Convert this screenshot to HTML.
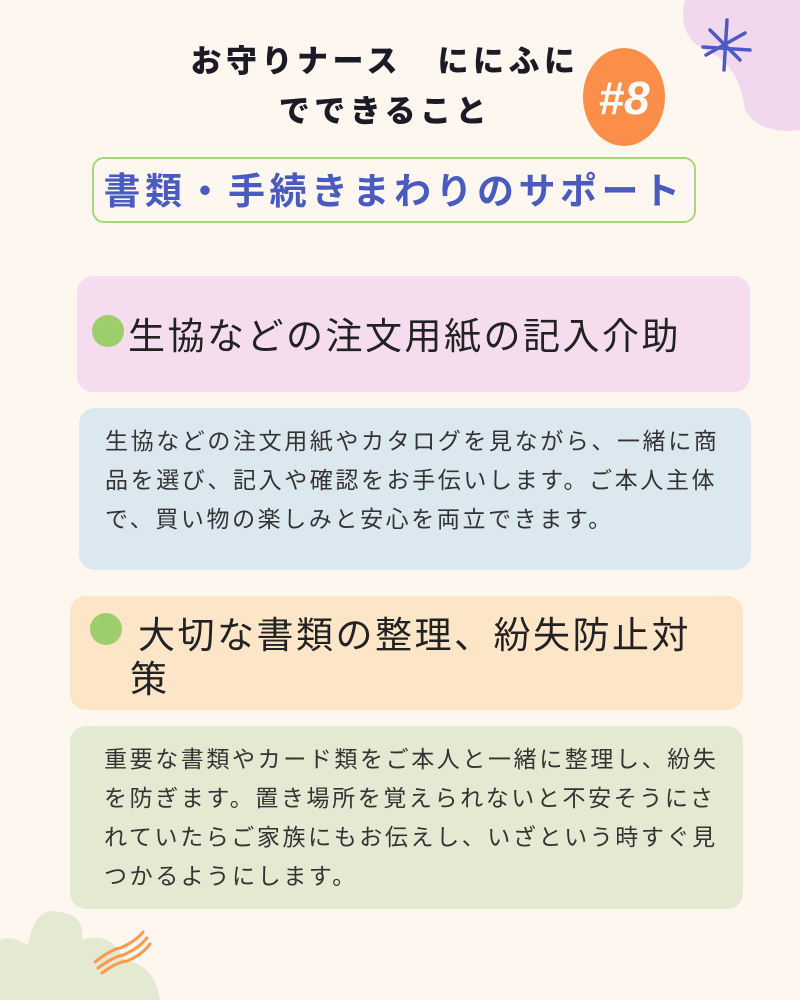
<!DOCTYPE html>
<html><head><meta charset="utf-8"><style>
body{margin:0;width:800px;height:1000px;background:#fdf7f0;position:relative;overflow:hidden;font-family:"Liberation Sans","Noto Sans CJK JP",sans-serif;}
.a{position:absolute;}
.t{font-weight:900;font-size:31px;color:#1c1b25;text-align:center;width:520px;left:125px;letter-spacing:4.5px}
.box{position:absolute;border-radius:16px;}
.h{font-size:37px;color:#222;position:absolute;white-space:nowrap;letter-spacing:2.5px}
.p{font-size:23px;color:#333;position:absolute;line-height:39px;letter-spacing:2.6px}
.dot{position:absolute;width:32px;height:32px;border-radius:50%;background:#9ccf6c}
</style></head><body>
<svg class="a" style="left:0;top:0" width="800" height="1000">
<path d="M685 0 Q675 40 715 55 Q740 70 745 110 Q760 135 800 130 L800 0Z" fill="#f1d8ef"/>
<g stroke="#4c5ac2" stroke-width="3.5" stroke-linecap="round"><line x1="727" y1="20" x2="724" y2="70"/><line x1="710" y1="30" x2="740" y2="60"/><line x1="706" y1="55" x2="745" y2="33"/><line x1="703" y1="47" x2="750" y2="50"/></g>
<ellipse cx="624" cy="97" rx="41" ry="49" fill="#fb8f4a"/>
<text x="624" y="114" font-size="46" fill="#fff" text-anchor="middle" font-family="Liberation Sans" font-weight="bold" font-style="italic">#8</text>
<path d="M0 1000 L0 940 Q10 935 28 945 Q35 905 60 912 Q85 915 82 940 Q110 930 125 960 Q155 965 160 1000Z" fill="#e4e9d1"/>
<g stroke="#fb9a4c" stroke-width="3" fill="none" stroke-linecap="round"><path d="M95 962 Q110 950 120 948 Q135 942 143 932"/><path d="M98 968 Q113 957 123 955 Q138 949 147 938"/><path d="M102 973 Q117 962 127 961 Q142 955 150 944"/></g>
</svg>
<div class="a t" style="top:36px">お守りナース　ににふに</div>
<div class="a t" style="top:86px">でできること</div>
<div class="box" style="left:92px;top:157px;width:600px;height:62px;border:2px solid #a8d67a;border-radius:12px"></div>
<div class="a" style="left:92px;top:161px;width:604px;text-align:center;font-size:37px;font-weight:bold;color:#4a5bc0;letter-spacing:4.5px">書類・手続きまわりのサポート</div>
<div class="box" style="left:77px;top:276px;width:673px;height:116px;background:#f5dcef"></div>
<div class="dot" style="left:92px;top:315px"></div>
<div class="h" style="left:128px;top:306px">生協などの注文用紙の記入介助</div>
<div class="box" style="left:79px;top:408px;width:672px;height:162px;background:#dce8ef"></div>
<div class="p" style="left:105px;top:422px;width:630px">生協などの注文用紙やカタログを見ながら、一緒に商品を選び、記入や確認をお手伝いします。ご本人主体で、買い物の楽しみと安心を両立できます。</div>
<div class="box" style="left:70px;top:596px;width:673px;height:114px;background:#fde5c8"></div>
<div class="dot" style="left:90px;top:613px"></div>
<div class="h" style="left:138px;top:605px">大切な書類の整理、紛失防止対</div>
<div class="h" style="left:130px;top:649px">策</div>
<div class="box" style="left:70px;top:726px;width:673px;height:183px;background:#e4e9d1"></div>
<div class="p" style="left:104px;top:740px;width:625px">重要な書類やカード類をご本人と一緒に整理し、紛失を防ぎます。置き場所を覚えられないと不安そうにされていたらご家族にもお伝えし、いざという時すぐ見つかるようにします。</div>
</body></html>
